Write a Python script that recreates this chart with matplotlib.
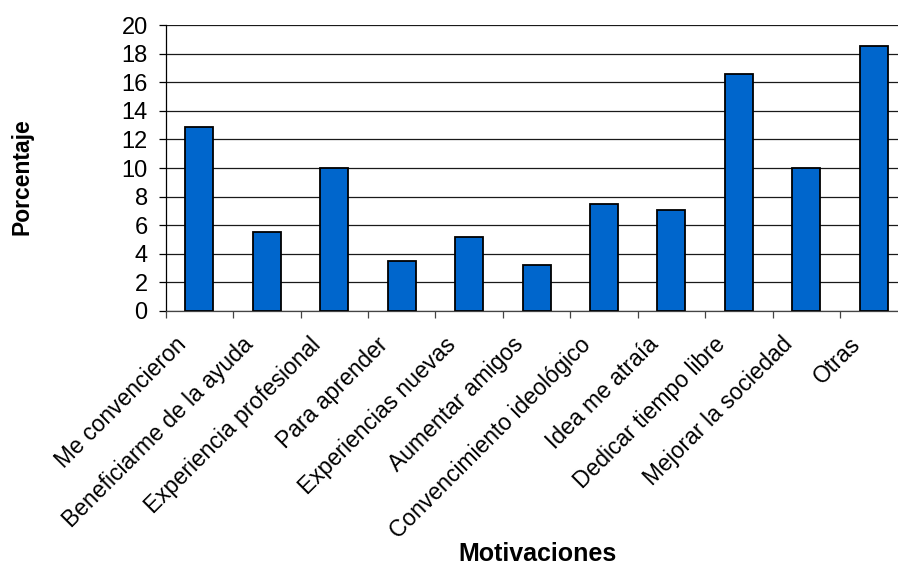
import numpy as np
import matplotlib.pyplot as plt
from matplotlib.transforms import ScaledTranslation

plt.rcParams['font.family'] = ['Liberation Sans', 'DejaVu Sans']

# -----------------------
# Data
# -----------------------
motivaciones = [
    "Me convencieron",
    "Beneficiarme de la ayuda",
    "Experiencia profesional",
    "Para aprender",
    "Experiencias nuevas",
    "Aumentar amigos",
    "Convencimiento ideológico",
    "Idea me atraía",
    "Dedicar tiempo libre",
    "Mejorar la sociedad",
    "Otras",
]
porcentaje = [12.9, 5.5, 10.0, 3.5, 5.2, 3.2, 7.5, 7.05, 16.6, 10.0, 18.5]
y_ticks = np.arange(0, 21, 2)

# -----------------------
# Figure
# -----------------------
fig = plt.figure(figsize=(8.98, 5.67), dpi=100)
ax = fig.add_axes([0.1845, 0.4515, 0.8261, 0.5044])

x = np.arange(len(motivaciones))
ax.bar(x, porcentaje, width=0.415, color="#0066CC",
       edgecolor="black", linewidth=1.3, zorder=3)

ax.set_xlim(-0.5, len(motivaciones) - 0.5)
ax.set_ylim(0, 20)
ax.set_yticks(y_ticks)
ax.yaxis.grid(True, color="#1a1a1a", linewidth=0.9, zorder=0)

for side in ("top", "right"):
    ax.spines[side].set_visible(False)
ax.spines["left"].set_linewidth(0.9)
ax.spines["bottom"].set_linewidth(0.9)
ax.spines["bottom"].set_color("#444444")

ax.tick_params(axis="y", direction="out", length=5, width=0.9,
               pad=8, labelsize=17)

# tick marks between categories, labels at category centres
ax.set_xticks(x - 0.5, minor=True)
ax.tick_params(axis="x", which="minor", direction="out", length=5,
               width=0.9, color="#444444")
ax.set_xticks(x, motivaciones)
ax.tick_params(axis="x", which="major", length=0, pad=0, labelsize=16.5)

offset = ScaledTranslation(-17 / 100, -30 / 100, fig.dpi_scale_trans)
for lab in ax.get_xticklabels():
    lab.set_rotation(45)
    lab.set_rotation_mode("anchor")
    lab.set_ha("right")
    lab.set_va("center")
    lab.set_transform(lab.get_transform() + offset)

fig.text(22 / 898, 1 - 177 / 567, "Porcentaje", rotation=90,
         ha="center", va="center", fontsize=16.5, fontweight="bold")
fig.text(537 / 898, 1 / 567, "Motivaciones",
         ha="center", va="bottom", fontsize=18, fontweight="bold")

fig.savefig("out.png", dpi=100)
